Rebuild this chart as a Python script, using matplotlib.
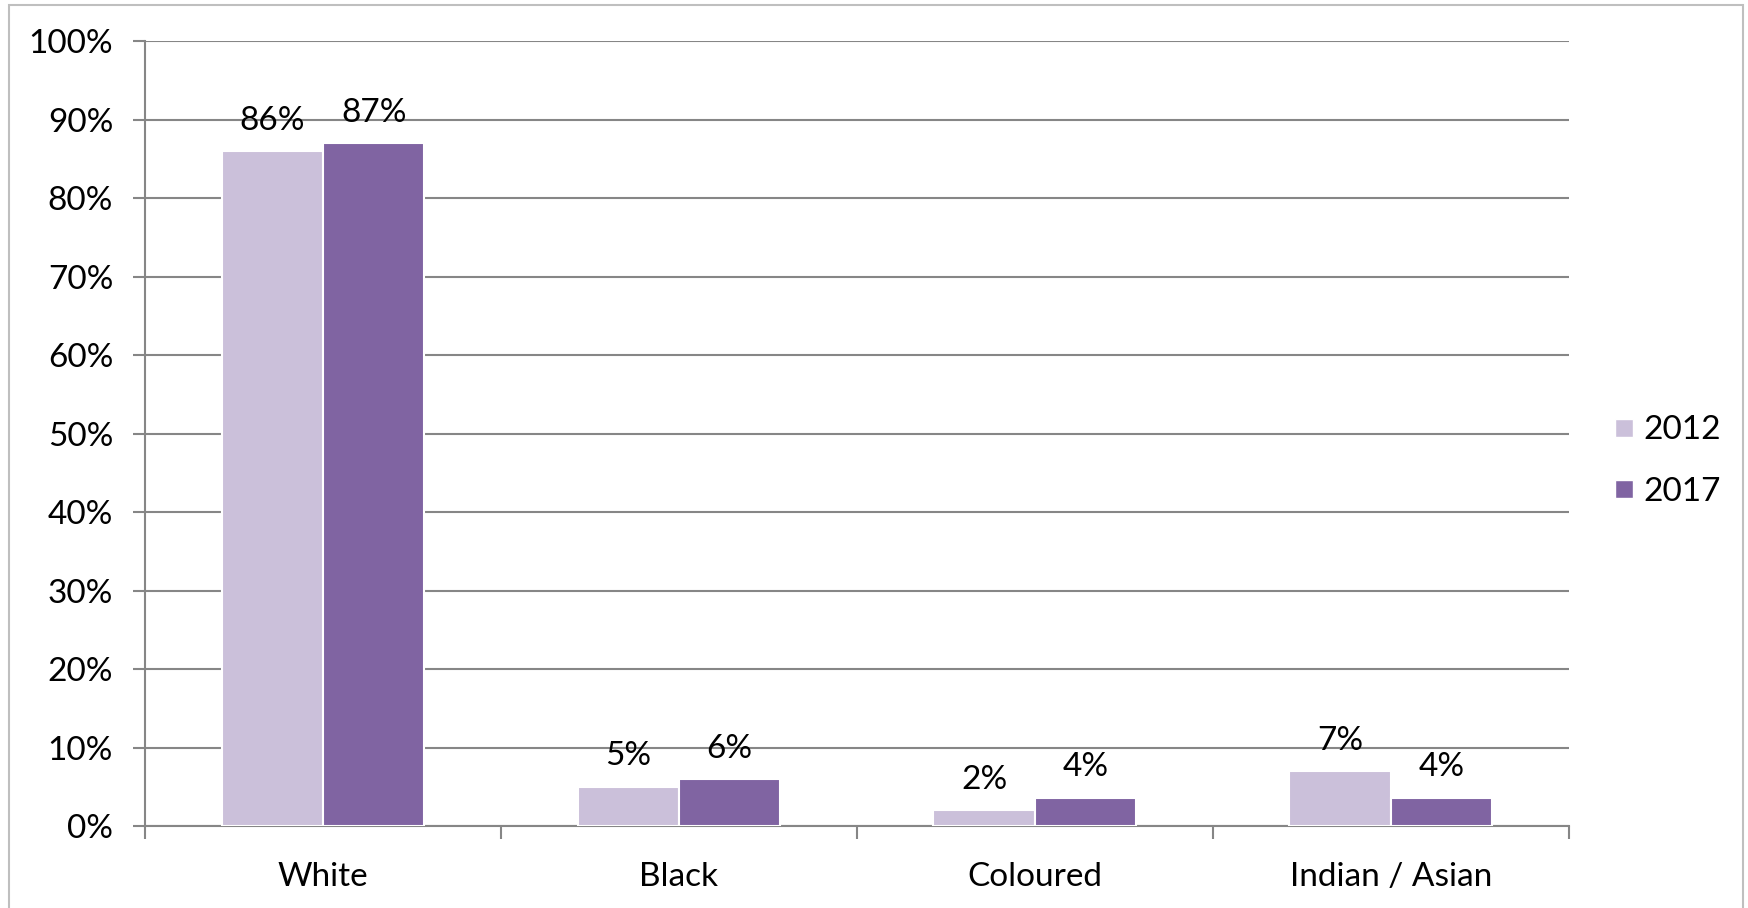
import numpy as np
import matplotlib.pyplot as plt
from matplotlib.lines import Line2D
from matplotlib.patches import Rectangle

categories = ['White', 'Black', 'Coloured', 'Indian / Asian']
years = ['2012', '2017']
values_2012 = [86, 5, 2, 7]
values_2017 = [87, 6, 3.6, 3.6]
y_ticks = [0, 10, 20, 30, 40, 50, 60, 70, 80, 90, 100]

col_2012 = '#CBC0DA'
col_2017 = '#8064A2'
grid_col = '#868686'

plt.rcParams['font.family'] = ['Lato', 'DejaVu Sans']

fig = plt.figure(figsize=(17.48, 9.08), dpi=100)
ax = fig.add_axes([0.083, 0.0903, 0.8145, 0.8645])

x = np.arange(len(categories))
w = 0.285
b1 = ax.bar(x - w / 2, values_2012, w, color=col_2012, edgecolor='white', linewidth=1.5, zorder=3)
b2 = ax.bar(x + w / 2, values_2017, w, color=col_2017, edgecolor='white', linewidth=1.5, zorder=3)

for bars in (b1, b2):
    for rect in bars:
        h = rect.get_height()
        ax.annotate('{:.0f}%'.format(h), (rect.get_x() + rect.get_width() / 2, h),
                    xytext=(0, 11), textcoords='offset points',
                    ha='center', va='bottom', fontsize=24, color='black', zorder=4)

ax.set_xlim(-0.5, len(categories) - 0.5)
ax.set_ylim(0, 100)

ax.set_yticks(y_ticks)
ax.set_yticklabels(['{}%'.format(t) for t in y_ticks])
ax.yaxis.grid(True, color=grid_col, linewidth=1.5, zorder=0)
ax.tick_params(axis='y', length=9, width=1.5, color=grid_col, labelsize=24, pad=14)

# category boundary ticks, labels at the centres
ax.set_xticks(np.arange(len(categories) + 1) - 0.5)
ax.set_xticklabels([])
ax.set_xticks(x, minor=True)
ax.set_xticklabels(categories, minor=True)
ax.tick_params(axis='x', which='major', length=9, width=1.5, color=grid_col)
ax.tick_params(axis='x', which='minor', length=0, labelsize=24, pad=26)

for s in ['top', 'right']:
    ax.spines[s].set_visible(False)
for s in ['left', 'bottom']:
    ax.spines[s].set_color(grid_col)
    ax.spines[s].set_linewidth(1.5)

handles = [Line2D([], [], marker='s', linestyle='none', markersize=13,
                  markerfacecolor=c, markeredgecolor='white')
           for c in (col_2012, col_2017)]
fig.legend(handles, years, loc='center left', bbox_to_anchor=(0.904, 0.492),
           frameon=False, fontsize=24, handlelength=0.8, handletextpad=0.2,
           labelspacing=0.95)

# outer chart border
fig.patches.append(Rectangle((9 / 1748, -0.05), (1743 - 9) / 1748, 1.05 - 5 / 908,
                             transform=fig.transFigure, fill=False,
                             edgecolor='#BFBFBF', linewidth=1.5))

fig.savefig('out.png', dpi=100)
